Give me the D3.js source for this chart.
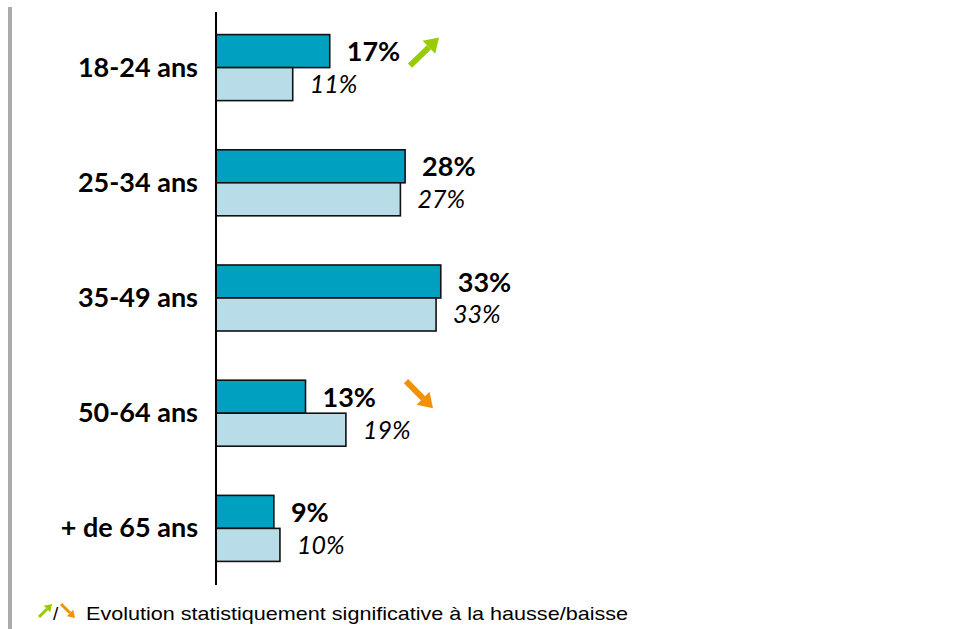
<!DOCTYPE html>
<html>
<head>
<meta charset="utf-8">
<script src="https://cdn.jsdelivr.net/npm/d3@7"></script>
<style>
  body { margin: 0; background: #fff; }
  svg { display: block; }
</style>
</head>
<body>
<div id="chart"></div>
<script>
const categories = ['18-24 ans', '25-34 ans', '35-49 ans', '50-64 ans', '+ de 65 ans']
const current = [16.9, 28.1, 33.4, 13.3, 8.6]
const previous = [11.4, 27.4, 32.7, 19.3, 9.5]
const trend = ['up', null, null, 'down', null]
const note = 'Evolution statistiquement significative à la hausse/baisse'

const width = 958
const height = 629
const axisX = 216

const svg = d3.select('#chart')
  .append('svg')
    .attr('width', width)
    .attr('height', height)

// grey bar on the left edge
svg.append('rect')
  .attr('x', 8).attr('y', 7)
  .attr('width', 4).attr('height', height - 7)
  .attr('fill', '#ababab')

const xScale = d3.scaleLinear()
  .domain([0, 100])
  .range([axisX, axisX + 673])

const yScale = d3.scaleBand()
  .domain(categories)
  .range([10, 586])
  .paddingInner(0.427)
  .paddingOuter(0.2135)

const half = yScale.bandwidth() / 2

const groups = svg.append('g').attr('class', 'bars')
  .selectAll('g')
  .data(categories).enter()
  .append('g')
    .attr('transform', d => `translate(0, ${yScale(d)})`)

groups.append('rect')
  .attr('x', xScale(0))
  .attr('y', 0)
  .attr('width', (d, i) => xScale(current[i]) - xScale(0))
  .attr('height', half)
  .attr('fill', '#00a0c0')
  .attr('stroke', '#111')
  .attr('stroke-width', 1.6)

groups.append('rect')
  .attr('x', xScale(0))
  .attr('y', half)
  .attr('width', (d, i) => xScale(previous[i]) - xScale(0))
  .attr('height', half)
  .attr('fill', '#b8dde8')
  .attr('stroke', '#111')
  .attr('stroke-width', 1.6)

groups.append('text')
  .text((d, i) => Math.round(current[i]) + '%')
  .attr('x', (d, i) => xScale(current[i]) + 17)
  .attr('y', half / 2 + 10)
  .attr('font-family', 'Lato, sans-serif')
  .attr('font-weight', 'bold')
  .attr('font-size', 27)
  .attr('fill', '#000')

groups.append('text')
  .text((d, i) => Math.round(previous[i]) + '%')
  .attr('x', (d, i) => xScale(previous[i]) + 17)
  .attr('y', half * 1.5 + 9)
  .attr('font-family', 'Lato, sans-serif')
  .attr('font-style', 'italic')
  .attr('font-size', 25)
  .attr('fill', '#000')

// category labels
groups.append('text')
  .text(d => d)
  .attr('x', 198)
  .attr('y', half + 9)
  .attr('text-anchor', 'end')
  .attr('font-family', 'Lato, sans-serif')
  .attr('font-weight', 'bold')
  .attr('font-size', 27)
  .attr('fill', '#000')

// vertical axis line
svg.append('line')
  .attr('x1', axisX).attr('x2', axisX)
  .attr('y1', 12).attr('y2', 585)
  .attr('stroke', '#000')
  .attr('stroke-width', 2)

function arrow(g, x1, y1, x2, y2, color, w, head) {
  const a = Math.atan2(y2 - y1, x2 - x1)
  const bx = x2 - Math.cos(a) * head
  const by = y2 - Math.sin(a) * head
  g.append('line')
    .attr('x1', x1).attr('y1', y1)
    .attr('x2', bx).attr('y2', by)
    .attr('stroke', color)
    .attr('stroke-width', w)
  const px = Math.cos(a + Math.PI / 2) * head * 0.65
  const py = Math.sin(a + Math.PI / 2) * head * 0.65
  g.append('path')
    .attr('d', `M${x2},${y2}L${bx + px},${by + py}L${bx - px},${by - py}Z`)
    .attr('fill', color)
}

const green = '#99cc00'
const orange = '#f39200'

groups.each(function (d, i) {
  const g = d3.select(this)
  if (trend[i] === 'up') arrow(g, 410, 31, 439, 3, green, 6, 14)
  if (trend[i] === 'down') arrow(g, 406, 1, 433, 28, orange, 6, 14)
})

// footnote
const foot = svg.append('g')
arrow(foot, 39, 617, 52, 604, green, 3, 7)
foot.append('text')
  .text('/')
  .attr('x', 53).attr('y', 620)
  .attr('font-family', 'Liberation Sans, Arial, sans-serif')
  .attr('font-size', 19)
  .attr('fill', '#000')
arrow(foot, 61, 604, 75, 618, orange, 3, 7)
foot.append('text')
  .text(note)
  .attr('x', 86).attr('y', 620)
  .attr('font-family', 'Liberation Sans, Arial, sans-serif')
  .attr('font-size', 19)
  .attr('textLength', 542)
  .attr('lengthAdjust', 'spacingAndGlyphs')
  .attr('fill', '#000')
</script>
</body>
</html>
